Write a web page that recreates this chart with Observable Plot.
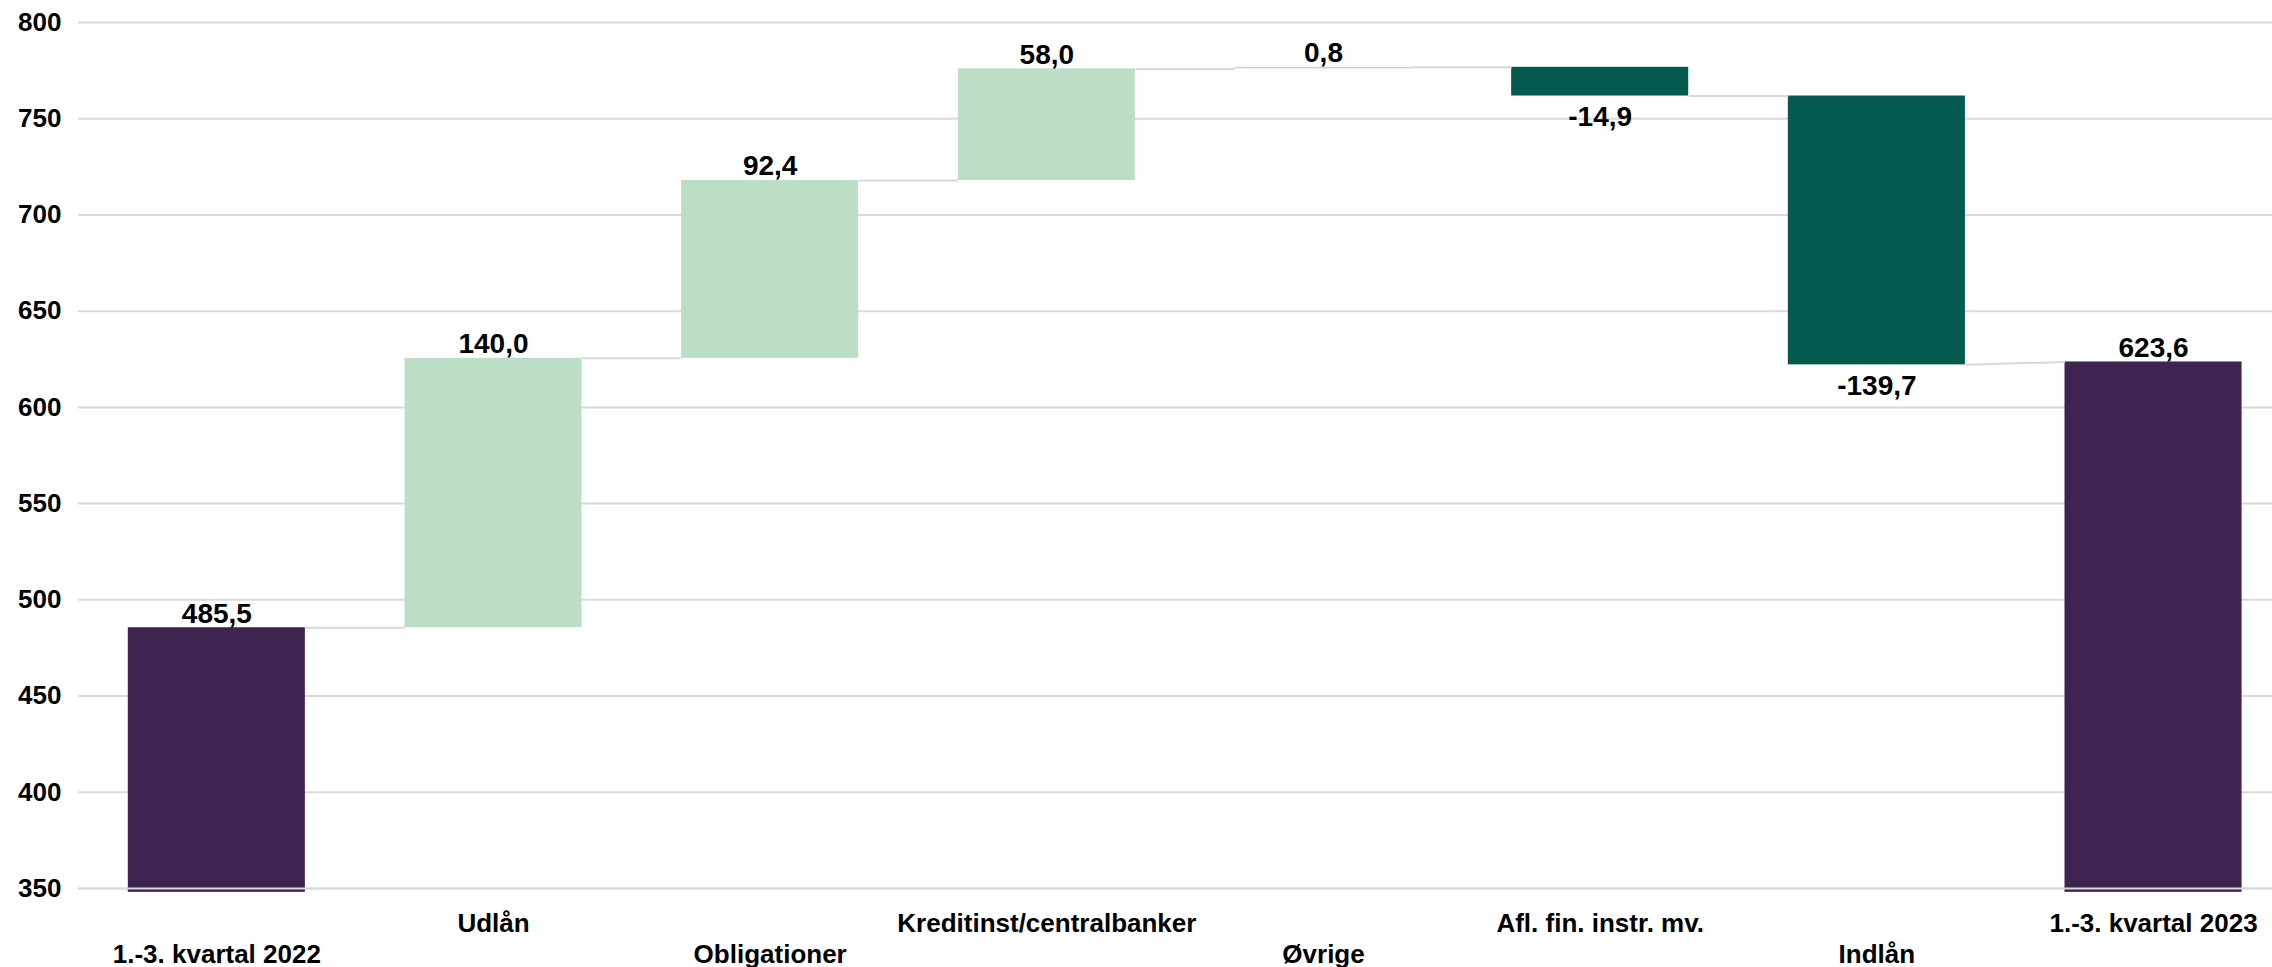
<!DOCTYPE html>
<html>
<head>
<meta charset="utf-8">
<script src="https://cdn.jsdelivr.net/npm/d3@7"></script>
<script src="https://cdn.jsdelivr.net/npm/@observablehq/plot@0.6"></script>
<style>
  html, body { margin: 0; padding: 0; background: #fff; }
</style>
</head>
<body>
<div id="chart"></div>
<script>
const categories = ["1.-3. kvartal 2022", "Udlån", "Obligationer", "Kreditinst/centralbanker", "Øvrige", "Afl. fin. instr. mv.", "Indlån", "1.-3. kvartal 2023"];
const values = [485.5, 140.0, 92.4, 58.0, 0.8, -14.9, -139.7, 623.6];
const isTotal = [true, false, false, false, false, false, false, true];
const yTicks = [350, 400, 450, 500, 550, 600, 650, 700, 750, 800];
const kindNames = ["total", "up", "down"];
const kindColors = ["#3F2350", "#BDDEC6", "#045A4F"];

const barBase = 348;   // totals start just below the axis minimum
const halfBar = 0.32;  // half bar width in category units

const locale = d3.formatLocale({decimal: ",", thousands: ".", grouping: [3], currency: ["", " kr."], minus: "-"});
const fmt = locale.format(".1f");

let cum = 0;
const rows = categories.map((name, i) => {
  let start, end, lo, hi, kind;
  if (isTotal[i]) {
    start = end = values[i];
    cum = values[i];
    lo = barBase; hi = values[i];
    kind = "total";
  } else {
    start = cum;
    end = cum + values[i];
    cum = end;
    lo = Math.min(start, end); hi = Math.max(start, end);
    kind = values[i] >= 0 ? "up" : "down";
  }
  return {i, name, value: values[i], kind, start, end, lo, hi};
});

const links = rows.slice(0, -1).map((d, k) => ({
  x1: d.i + halfBar, y1: d.end,
  x2: rows[k + 1].i - halfBar, y2: rows[k + 1].start
}));

const evens = rows.filter(d => d.i % 2 === 0).map(d => d.i);
const odds = rows.filter(d => d.i % 2 === 1).map(d => d.i);

const chart = Plot.plot({
  width: 2272,
  height: 967,
  marginLeft: 78,
  marginRight: 0,
  marginTop: 22,
  marginBottom: 79,
  x: {domain: [-0.5, 7.43]},
  y: {domain: [350, 800]},
  color: {domain: kindNames, range: kindColors},
  style: {fontFamily: "'Liberation Sans', Arial, sans-serif", fontWeight: "bold", color: "#000", background: "#fff", overflow: "visible"},
  marks: [
    Plot.gridY(yTicks, {stroke: "#dadada", strokeOpacity: 1, strokeWidth: 2}),
    Plot.axisY({ticks: yTicks, tickSize: 0, tickPadding: 17, fontSize: 26, label: null}),
    Plot.rect(rows, {x1: d => d.i - halfBar, x2: d => d.i + halfBar, y1: "lo", y2: "hi", fill: "kind"}),
    Plot.ruleY([yTicks[0]], {stroke: "#dadada", strokeWidth: 2}),
    Plot.link(links, {x1: "x1", y1: "y1", x2: "x2", y2: "y2", stroke: "#d9d9d9", strokeWidth: 2}),
    Plot.text(rows.filter(d => d.kind !== "down"), {x: "i", y: "hi", text: d => fmt(d.value), lineAnchor: "bottom", dy: -5, fontSize: 28, fill: "#000"}),
    Plot.text(rows.filter(d => d.kind === "down"), {x: "i", y: "lo", text: d => fmt(d.value), lineAnchor: "top", dy: 10, fontSize: 28, fill: "#000"}),
    Plot.axisX({ticks: odds, tickFormat: i => categories[i], tickSize: 0, tickPadding: 25.5, fontSize: 26, label: null}),
    Plot.axisX({ticks: evens, tickFormat: i => categories[i], tickSize: 0, tickPadding: 56.5, fontSize: 26, label: null})
  ]
});

document.getElementById("chart").appendChild(chart);
</script>
</body>
</html>
